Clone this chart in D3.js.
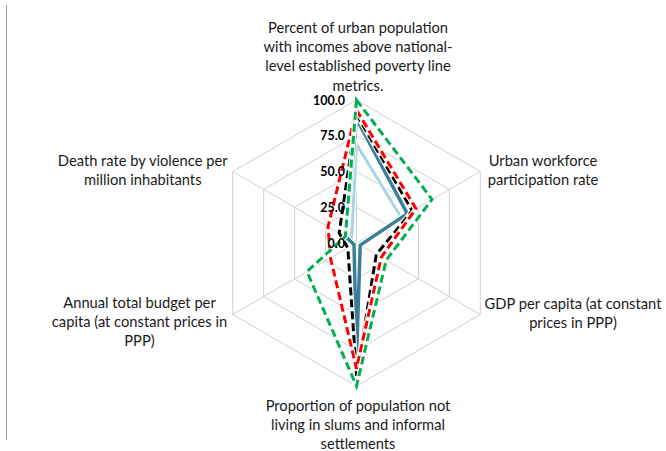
<!DOCTYPE html>
<html>
<head>
<meta charset="utf-8">
<script src="https://cdn.jsdelivr.net/npm/d3@7"></script>
<style>
  html, body { margin: 0; padding: 0; background: #fff; }
  svg { display: block; }
  text { font-family: Lato, "Open Sans", sans-serif; fill: #1a1a1a; }
</style>
</head>
<body>
<svg id="chart" width="666" height="451"></svg>
<script>
// ---- data ----
const axes = [
  ["Percent of urban population", "with incomes above national-", "level established poverty line", "metrics."],
  ["Urban workforce", "participation rate"],
  ["GDP per capita (at constant", "prices in PPP)"],
  ["Proportion of population not", "living in slums and informal", "settlements"],
  ["Annual total budget per", "capita (at constant prices in", "PPP)"],
  ["Death rate by violence per", "million inhabitants"]
];
const ticks = [0, 25, 50, 75, 100];
const tickLabels = ["0.0", "25.0", "50.0", "75.0", "100.0"];

const seriesLightBlue = [69, 36, 3, 78, 1, 4];
const seriesDarkTeal  = [87, 41, 3, 81, 2, 9];
const seriesBlack     = [90, 45, 16, 93, 7, 14];
const seriesRed       = [93, 48, 20, 88, 21, 23];
const seriesGreen     = [100, 61, 24, 100, 40, 9];

const series = [
  { values: seriesLightBlue, color: "#a9d4e4", width: 3, dash: null },
  { values: seriesDarkTeal,  color: "#3b7e98", width: 3.5, dash: null },
  { values: seriesBlack,     color: "#000000", width: 3, dash: "8,4" },
  { values: seriesRed,       color: "#ff0000", width: 3, dash: "8,4" },
  { values: seriesGreen,     color: "#00b050", width: 3, dash: "8,4" }
];

// ---- layout ----
const svg = d3.select("#chart");
const cx = 356.5, cy = 243, R = 143;
const r = d3.scaleLinear().domain([0, 100]).range([0, R]);
const angle = d3.scaleLinear().domain([0, axes.length]).range([0, 2 * Math.PI]);
const pt = (i, v) => [cx + r(v) * Math.sin(angle(i)), cy - r(v) * Math.cos(angle(i))];

// left border line
svg.append("line").attr("x1", 6.5).attr("x2", 6.5).attr("y1", 5).attr("y2", 440)
  .attr("stroke", "#9a9a9a").attr("stroke-width", 1);

// grid rings
const g = svg.append("g");
ticks.filter(t => t > 0).forEach(t => {
  g.append("path")
    .attr("d", d3.line()(axes.map((_, i) => pt(i, t))) + "Z")
    .attr("fill", "none").attr("stroke", "#cfcfcf").attr("stroke-width", 1);
});
// spokes
axes.forEach((_, i) => {
  const [x, y] = pt(i, 100);
  g.append("line").attr("x1", cx).attr("y1", cy).attr("x2", x).attr("y2", y)
    .attr("stroke", "#cfcfcf").attr("stroke-width", 1);
});

// series
const lineGen = d3.line().curve(d3.curveLinearClosed);
series.forEach(s => {
  const pts = s.values.map((v, i) => pt(i, v));
  svg.append("path").attr("d", lineGen(pts))
    .attr("fill", "none").attr("stroke", "#ffffff").attr("stroke-opacity", 0.9)
    .attr("stroke-width", s.width + 2.2).attr("stroke-linejoin", "miter");
  svg.append("path").attr("d", lineGen(pts))
    .attr("fill", "none").attr("stroke", s.color)
    .attr("stroke-width", s.width).attr("stroke-linejoin", "miter")
    .attr("stroke-dasharray", s.dash);
});

// tick labels
ticks.forEach((t, k) => {
  svg.append("text")
    .attr("x", cx - 11.5).attr("y", cy - r(t))
    .attr("text-anchor", "end").attr("dominant-baseline", "central")
    .style("font-size", "12.5px").style("font-weight", "bold").style("fill", "#000")
    .text(tickLabels[k]);
});

// axis labels
const labelPos = [
  [358, 27], [543, 160], [573, 303], [358, 405], [139.5, 301.5], [142.7, 160]
];
const lh = 19.2;
axes.forEach((lines, i) => {
  const t = svg.append("text").attr("text-anchor", "middle").style("font-size", "14.7px");
  lines.forEach((ln, j) => {
    t.append("tspan").attr("x", labelPos[i][0]).attr("y", labelPos[i][1] + j * lh)
      .attr("dominant-baseline", "central").text(ln);
  });
});
</script>
</body>
</html>
